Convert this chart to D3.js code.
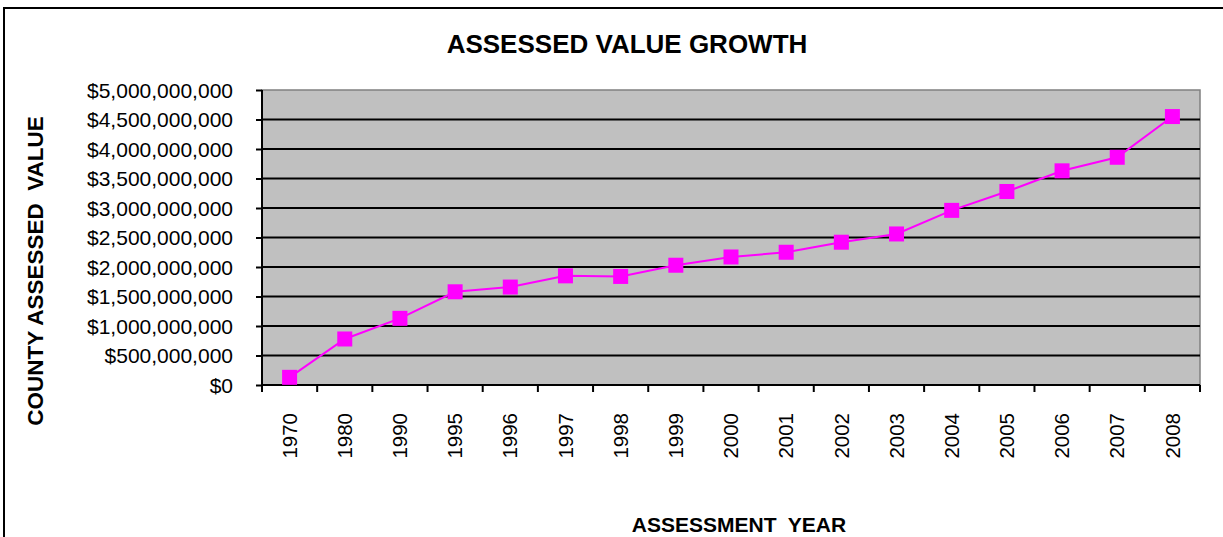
<!DOCTYPE html>
<html><head><meta charset="utf-8">
<script src="https://cdn.jsdelivr.net/npm/d3@7"></script>
<style>
html,body{margin:0;padding:0;background:#fff;}
svg{display:block;font-family:"Liberation Sans",Arial,sans-serif;}
</style></head><body>
<svg id="chart" width="1223" height="537"></svg>
<script>
const years = ["1970","1980","1990","1995","1996","1997","1998","1999","2000","2001","2002","2003","2004","2005","2006","2007","2008"];
const assessedValue = [130e6,780e6,1130e6,1580e6,1660e6,1850e6,1840e6,2030e6,2170e6,2250e6,2420e6,2560e6,2960e6,3280e6,3630e6,3860e6,4550e6];
const yTicks = [0,500e6,1000e6,1500e6,2000e6,2500e6,3000e6,3500e6,4000e6,4500e6,5000e6];
const titleText = "ASSESSED VALUE GROWTH";
const xTitle = "ASSESSMENT  YEAR";
const yTitle = "COUNTY ASSESSED  VALUE";

const svg = d3.select("#chart");
const L = 262, R = 1200, T = 90, B = 385;

// outer frame
svg.append("rect").attr("x",4).attr("y",8).attr("width",1240).attr("height",560)
  .attr("fill","#fff").attr("stroke","#000").attr("stroke-width",2);

const x = d3.scaleBand().domain(years).range([L,R]);
const y = d3.scaleLinear().domain([0,5e9]).range([B,T]);

// plot area
svg.append("rect").attr("x",L).attr("y",T).attr("width",R-L).attr("height",B-T)
  .attr("fill","#c0c0c0").attr("stroke","#808080").attr("stroke-width",1.5);

// gridlines
svg.append("g").selectAll("line").data(yTicks.filter(d=>d>0 && d<5e9)).join("line")
  .attr("x1",L).attr("x2",R).attr("y1",d=>y(d)).attr("y2",d=>y(d))
  .attr("stroke","#000").attr("stroke-width",2);

// y axis
const fmt = d => "$" + d3.format(",")(d);
const yAxis = svg.append("g").attr("transform",`translate(${L},0)`)
  .call(d3.axisLeft(y).tickValues(yTicks).tickFormat(fmt).tickSize(6).tickPadding(23));
yAxis.select(".domain").attr("stroke","#000").attr("stroke-width",2).attr("d",`M0,${T}V${B}`);
yAxis.selectAll(".tick line").attr("stroke","#000").attr("stroke-width",2);
yAxis.selectAll("text").attr("font-size",21).attr("fill","#000").attr("font-family","Liberation Sans, Arial, sans-serif").attr("dy","0.35em");

// x axis
const xAxis = svg.append("g").attr("transform",`translate(0,${B})`)
  .call(d3.axisBottom(x).tickSize(0).tickPadding(0));
xAxis.select(".domain").attr("stroke","#000").attr("stroke-width",2).attr("d",`M${L},0H${R}`);
xAxis.selectAll(".tick line").remove();
// category boundary ticks
svg.append("g").selectAll("line").data(years.concat(["__end"])).join("line")
  .attr("x1",(d,i)=> i<years.length ? x(d) : R)
  .attr("x2",(d,i)=> i<years.length ? x(d) : R)
  .attr("y1",B).attr("y2",B+7).attr("stroke","#000").attr("stroke-width",2);
xAxis.selectAll("text")
  .attr("font-size",20.5).attr("fill","#000").attr("font-family","Liberation Sans, Arial, sans-serif")
  .attr("transform","translate(0,28) rotate(-90)")
  .attr("text-anchor","end").attr("dy","0.35em").attr("y",0).attr("x",0);

// line
const cx = d => x(d) + x.bandwidth()/2;
const line = d3.line().x((d,i)=>cx(years[i])).y(d=>y(d));
svg.append("path").datum(assessedValue).attr("d",line)
  .attr("fill","none").attr("stroke","#ff00ff").attr("stroke-width",2);
const ms = 15;
svg.append("g").selectAll("rect").data(assessedValue).join("rect")
  .attr("x",(d,i)=>cx(years[i])-ms/2).attr("y",d=>y(d)-ms/2)
  .attr("width",ms).attr("height",ms).attr("fill","#ff00ff");

// titles
svg.append("text").attr("x",627).attr("y",53).attr("text-anchor","middle")
  .attr("font-size",26).attr("font-weight","bold").text(titleText);
svg.append("text").attr("x",739).attr("y",532).attr("text-anchor","middle")
  .attr("font-size",21).attr("font-weight","bold").attr("xml:space","preserve")
  .style("white-space","pre").text(xTitle);
svg.append("text").attr("transform","translate(43,271) rotate(-90)").attr("text-anchor","middle")
  .attr("font-size",22.5).attr("font-weight","bold").attr("xml:space","preserve")
  .style("white-space","pre").text(yTitle);
</script>
</body></html>
